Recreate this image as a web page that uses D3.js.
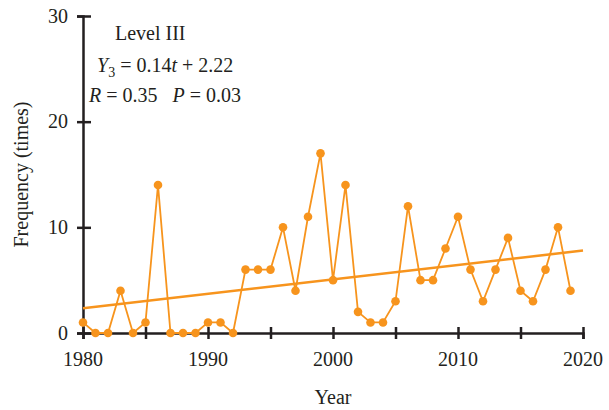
<!DOCTYPE html>
<html>
<head>
  <script src="https://d3js.org/d3.v7.min.js"></script>
  <style>
    body { margin: 0; background: #fff; font-family: "Liberation Serif", "DejaVu Serif", serif; }
  </style>
</head>
<body>
  <div id="chart"></div>
  <script>
const years = d3.range(1980, 2020);
const freq = [1, 0, 0, 4, 0, 1, 14, 0, 0, 0,
              1, 1, 0, 6, 6, 6, 10, 4, 11, 17,
              5, 14, 2, 1, 1, 3, 12, 5, 5, 8,
              11, 6, 3, 6, 9, 4, 3, 6, 10, 4];
const trendYears = [1980, 2020];
const trendVals = [2.35, 7.8];
const xTicks = [1980, 1985, 1990, 1995, 2000, 2005, 2010, 2015, 2020];
const xLabels = [1980, 1990, 2000, 2010, 2020];
const yTicks = [0, 10, 20, 30];

const width = 609, height = 410;
const margin = { top: 16, right: 26, bottom: 77, left: 83 };
const orange = "#f7941d", ink = "#231f20";

const svg = d3.select("#chart").append("svg")
  .attr("width", width).attr("height", height);

const x = d3.scaleLinear().domain([1980, 2020]).range([margin.left, width - margin.right]);
const y = d3.scaleLinear().domain([0, 30]).range([height - margin.bottom, margin.top]);

// axes
const gx = svg.append("g").attr("transform", `translate(0,${y(0)})`)
  .call(d3.axisBottom(x).tickValues(xTicks).tickSize(6).tickFormat(""));
gx.select(".domain").attr("stroke", ink).attr("stroke-width", 2.5);
gx.selectAll(".tick line").attr("stroke", ink).attr("stroke-width", 2.5).attr("y1", -6);

const gy = svg.append("g").attr("transform", `translate(${x(1980)},0)`)
  .call(d3.axisLeft(y).tickValues(yTicks).tickSize(6).tickFormat(""));
gy.select(".domain").attr("stroke", ink).attr("stroke-width", 2.5);
gy.selectAll(".tick line").attr("stroke", ink).attr("stroke-width", 2.5).attr("x1", 8);

svg.selectAll(".xl").data(xLabels).join("text")
  .attr("x", d => x(d)).attr("y", y(0) + 33)
  .attr("text-anchor", "middle").attr("font-size", 20).attr("fill", ink)
  .text(d => d);

svg.selectAll(".yl").data(yTicks).join("text")
  .attr("x", x(1980) - 15).attr("y", d => y(d) + 6.5)
  .attr("text-anchor", "end").attr("font-size", 20).attr("fill", ink)
  .text(d => d);

svg.append("text").attr("x", 333).attr("y", 404)
  .attr("text-anchor", "middle").attr("font-size", 20).attr("fill", ink).text("Year");

svg.append("text")
  .attr("transform", `translate(28,${(y(0) + y(30)) / 2}) rotate(-90)`)
  .attr("text-anchor", "middle").attr("font-size", 20).attr("fill", ink)
  .text("Frequency (times)");

// trend line
svg.append("line")
  .attr("x1", x(trendYears[0])).attr("y1", y(trendVals[0]))
  .attr("x2", x(trendYears[1])).attr("y2", y(trendVals[1]))
  .attr("stroke", orange).attr("stroke-width", 2.5);

// series
const pts = years.map((yr, i) => [yr, freq[i]]);
svg.append("path").datum(pts)
  .attr("fill", "none").attr("stroke", orange).attr("stroke-width", 1.8)
  .attr("d", d3.line().x(d => x(d[0])).y(d => y(d[1])));

svg.selectAll(".dot").data(pts).join("circle")
  .attr("cx", d => x(d[0])).attr("cy", d => y(d[1])).attr("r", 4.3)
  .attr("fill", orange);

// annotation
const ann = svg.append("g").attr("font-size", 20).attr("fill", ink);
ann.append("text").attr("x", 115).attr("y", 40).text("Level III");
const t2 = ann.append("text").attr("x", 97).attr("y", 72);
t2.append("tspan").attr("font-style", "italic").text("Y");
t2.append("tspan").attr("font-size", 14).attr("dy", 5).text("3");
t2.append("tspan").attr("dy", -5).text(" = 0.14");
t2.append("tspan").attr("font-style", "italic").text("t");
t2.append("tspan").text(" + 2.22");
const t3 = ann.append("text").attr("x", 89).attr("y", 102).attr("xml:space", "preserve");
t3.append("tspan").attr("font-style", "italic").text("R");
t3.append("tspan").text(" = 0.35 ");
t3.append("tspan").attr("dx", 10).attr("font-style", "italic").text("P");
t3.append("tspan").text(" = 0.03");
  </script>
</body>
</html>
